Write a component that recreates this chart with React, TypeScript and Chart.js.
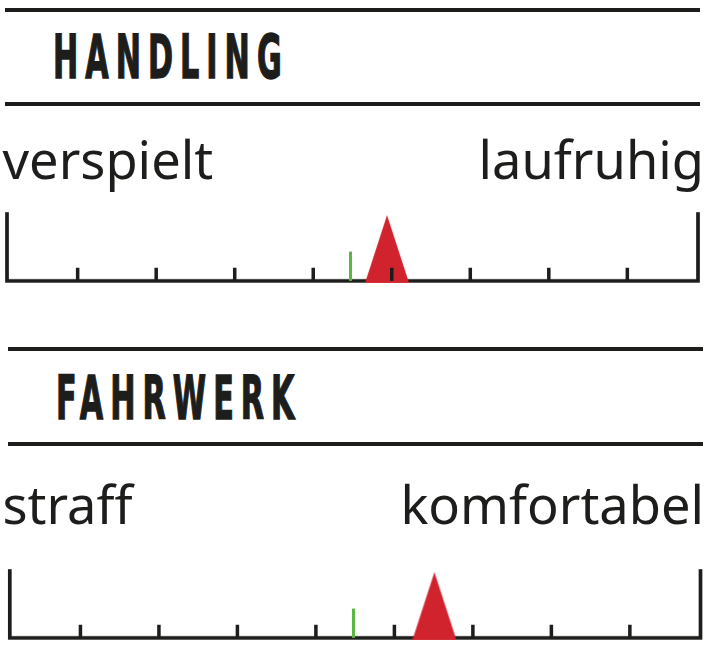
import { useEffect, useRef } from 'react'
import { Chart, registerables, type ChartConfiguration, type Plugin } from 'chart.js'
Chart.register(...registerables)

// data
const TITLES = ['HANDLING', 'FAHRWERK']
const LEFT_LABELS = ['verspielt', 'straff']
const RIGHT_LABELS = ['laufruhig', 'komfortabel']
const REFERENCE_VALUES = [4.47, 4.48] // green mark
const TEST_VALUES = [4.94, 5.51] // red triangle
const SCALE_TICKS = [1, 2, 3, 4, 5, 6, 7, 8]
const SCALE_MIN = 0.1
const SCALE_MAX = 8.9

const INK = '#1d1d1b'
const RED = '#d0232d'
const GREEN = '#5cb646'
const PAD = 12
const LABEL_SIZE = 52.4

type Layout = {
  x0: number; x1: number
  rule1: number; titleBase: number; titleLeft: number; rule2: number
  labelBase: number
  capTop: number; baseline: number; padL: number; padR: number
}

const LAYOUTS: Layout[] = [
  { x0: 5, x1: 700, rule1: 7.5, titleBase: 77.3, titleLeft: 53, rule2: 102, labelBase: 179.5, capTop: 212, baseline: 280.7, padL: 7, padR: 14 },
  { x0: 8, x1: 702.7, rule1: 347.3, titleBase: 419, titleLeft: 55.5, rule2: 442.3, labelBase: 525, capTop: 569.3, baseline: 638, padL: 9.8, padR: 11.5 },
]

function makeTriangle(w: number, h: number, below: number) {
  const c = document.createElement('canvas')
  c.width = w
  c.height = h * 2
  const g = c.getContext('2d')!
  g.fillStyle = RED
  g.beginPath()
  g.moveTo(w / 2, 0)
  g.lineTo(w, h + below)
  g.lineTo(0, h + below)
  g.closePath()
  g.fill()
  return c
}

function makeBar(w: number, h: number) {
  const c = document.createElement('canvas')
  c.width = w
  c.height = h * 2
  const g = c.getContext('2d')!
  g.fillStyle = GREEN
  g.fillRect(0, 0, w, h)
  return c
}

const rulerPlugin: Plugin<'scatter'> = {
  id: 'ruler',
  beforeDatasetsDraw(chart) {
    const { ctx, chartArea: { left, right, top, bottom } } = chart
    ctx.save()
    ctx.strokeStyle = INK
    ctx.lineWidth = 3.7
    ctx.lineJoin = 'miter'
    ctx.beginPath()
    ctx.moveTo(left, top)
    ctx.lineTo(left, bottom)
    ctx.lineTo(right, bottom)
    ctx.lineTo(right, top)
    ctx.stroke()
    ctx.restore()
  },
  afterDatasetsDraw(chart) {
    const { ctx, chartArea: { bottom } } = chart
    const xs = chart.scales.x
    ctx.save()
    ctx.strokeStyle = INK
    ctx.lineWidth = 3.5
    ctx.beginPath()
    SCALE_TICKS.forEach(v => {
      const px = xs.getPixelForValue(v)
      ctx.moveTo(px, bottom)
      ctx.lineTo(px, bottom - 13)
    })
    ctx.stroke()
    ctx.restore()
  },
}

function Ruler({ reference, test, layout }: { reference: number; test: number; layout: Layout }) {
  const ref = useRef<HTMLCanvasElement>(null)
  const h = layout.baseline - layout.capTop + PAD * 2

  useEffect(() => {
    if (!ref.current) return
    const config: ChartConfiguration<'scatter'> = {
      type: 'scatter',
      data: {
        datasets: [
          { data: [{ x: reference, y: 0 }], pointStyle: makeBar(3, 29), pointRadius: 4, clip: false },
          { data: [{ x: test, y: 0 }], pointStyle: makeTriangle(44, 65, 2), pointRadius: 4, clip: false },
        ],
      },
      options: {
        animation: false,
        responsive: false,
        events: [],
        layout: { padding: { left: layout.padL, right: layout.padR, top: PAD, bottom: PAD } },
        scales: {
          x: { type: 'linear', min: SCALE_MIN, max: SCALE_MAX, display: false },
          y: { type: 'linear', min: 0, max: 1, display: false },
        },
        plugins: { legend: { display: false }, tooltip: { enabled: false } },
      },
      plugins: [rulerPlugin],
    }
    const chart = new Chart(ref.current, config)
    return () => chart.destroy()
  }, [reference, test, layout])

  return (
    <canvas
      ref={ref}
      width={712}
      height={h}
      style={{ position: 'absolute', left: 0, top: layout.capTop - PAD, width: 712, height: h }}
    />
  )
}

const labelStyle = {
  position: 'absolute' as const,
  fontFamily: '"Noto Sans", "Open Sans", sans-serif',
  fontSize: LABEL_SIZE,
  lineHeight: `${LABEL_SIZE}px`,
  color: INK,
  whiteSpace: 'nowrap' as const,
}

function Section({ i }: { i: number }) {
  const l = LAYOUTS[i]
  const rule = (y: number) => (
    <div style={{ position: 'absolute', left: l.x0, top: y, width: l.x1 - l.x0, height: 4, background: INK }} />
  )
  const labelTop = l.labelBase - LABEL_SIZE * 0.888
  return (
    <>
      {rule(l.rule1)}
      <div
        style={{
          position: 'absolute', left: l.titleLeft, top: l.titleBase - 50.8,
          fontFamily: '"DejaVu Sans Condensed", "DejaVu Sans", sans-serif', fontStretch: 'condensed',
          fontWeight: 700, fontSize: 60, lineHeight: '60px', letterSpacing: 12.5, color: INK,
          WebkitTextStroke: `1.4px ${INK}`,
          transform: 'scaleX(0.56)', transformOrigin: 'left top', whiteSpace: 'nowrap',
        }}
      >
        {TITLES[i]}
      </div>
      {rule(l.rule2)}
      <div style={{ ...labelStyle, left: 2.5, top: labelTop }}>{LEFT_LABELS[i]}</div>
      <div style={{ ...labelStyle, right: 8, top: labelTop }}>{RIGHT_LABELS[i]}</div>
      <Ruler reference={REFERENCE_VALUES[i]} test={TEST_VALUES[i]} layout={l} />
    </>
  )
}

export default function App() {
  return (
    <div style={{ position: 'absolute', left: 0, top: 0, width: 712, height: 650, background: '#fff', overflow: 'hidden' }}>
      {TITLES.map((_, i) => <Section key={i} i={i} />)}
    </div>
  )
}
